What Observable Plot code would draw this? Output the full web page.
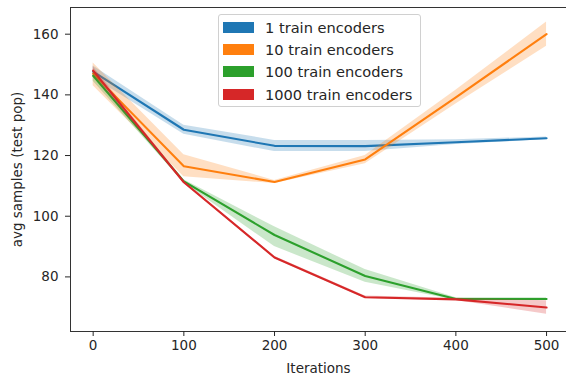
<!DOCTYPE html>
<html>
<head>
<meta charset="utf-8">
<script src="https://cdn.jsdelivr.net/npm/d3@7"></script>
<script src="https://cdn.jsdelivr.net/npm/@observablehq/plot@0.6"></script>
<style>
  html, body { margin: 0; padding: 0; background: #fff; }
  #wrap { position: relative; width: 566px; height: 377px; overflow: hidden; font-family: "DejaVu Sans", sans-serif; }
  #legend { position: absolute; left: 218px; top: 14px; width: 201px; height: 91px; border: 1px solid #d0d0d0; border-radius: 3px; background: rgba(255,255,255,0.8); }
  .row { position: absolute; left: 4px; height: 22px; display: flex; align-items: center; font-size: 14.6px; color: #262626; white-space: nowrap; }
  .sw { width: 31px; height: 11px; margin-right: 11px; }
</style>
</head>
<body>
<div id="wrap"></div>
<script>
const iterations = [0, 100, 200, 300, 400, 500];
const seriesNames = ["1 train encoders", "10 train encoders", "100 train encoders", "1000 train encoders"];
const colors = ["#1f77b4", "#ff7f0e", "#2ca02c", "#d62728"];

const enc1 = [147.7, 128.5, 123.2, 123.1, 124.4, 125.7];
const enc1Lo = [145.7, 127.0, 121.3, 121.3, 123.6, 125.3];
const enc1Hi = [149.5, 130.0, 125.0, 125.0, 125.2, 126.1];

const enc10 = [147.0, 116.5, 111.3, 118.7, 139.2, 160.0];
const enc10Lo = [143.0, 113.0, 110.8, 117.3, 137.0, 156.0];
const enc10Hi = [150.5, 120.3, 111.8, 120.0, 141.5, 164.0];

const enc100 = [146.3, 111.5, 93.8, 80.3, 72.7, 72.7];
const enc100Lo = [144.5, 111.0, 90.0, 78.2, 72.3, 72.3];
const enc100Hi = [148.0, 112.0, 96.5, 82.4, 73.1, 73.1];

const enc1000 = [148.0, 111.2, 86.4, 73.3, 72.6, 69.9];
const enc1000Lo = [146.5, 110.8, 86.0, 72.9, 72.2, 67.7];
const enc1000Hi = [149.3, 111.6, 86.8, 73.7, 73.0, 72.1];

const xTicks = [0, 100, 200, 300, 400, 500];
const yTicks = [80, 100, 120, 140, 160];

const means = [enc1, enc10, enc100, enc1000];
const los = [enc1Lo, enc10Lo, enc100Lo, enc1000Lo];
const his = [enc1Hi, enc10Hi, enc100Hi, enc1000Hi];

const data = [];
seriesNames.forEach((s, i) => {
  iterations.forEach((it, j) => {
    data.push({series: s, it, y: means[i][j], lo: los[i][j], hi: his[i][j]});
  });
});

const marks = [];
seriesNames.forEach((s, i) => {
  const d = data.filter(r => r.series === s);
  marks.push(Plot.areaY(d, {x: "it", y1: "lo", y2: "hi", fill: colors[i], fillOpacity: 0.25}));
  marks.push(Plot.lineY(d, {x: "it", y: "y", stroke: colors[i], strokeWidth: 2.1}));
});

const chart = Plot.plot({
  width: 566,
  height: 377,
  marginLeft: 70,
  marginRight: 0,
  marginTop: 7,
  marginBottom: 46,
  style: {fontFamily: "DejaVu Sans, sans-serif", fontSize: "13.5px", color: "#262626", background: "#fff"},
  x: {domain: [-25, 522]},
  y: {domain: [62, 168.8]},
  marks: [
    ...marks,
    Plot.frame({anchor: "left", stroke: "#333"}),
    Plot.frame({anchor: "top", stroke: "#333"}),
    Plot.frame({anchor: "bottom", stroke: "#333"}),
    Plot.axisX({ticks: xTicks, tickSize: 5, tickPadding: 4, fontSize: 13.5, label: "Iterations", labelAnchor: "center", labelOffset: 41, labelArrow: "none"}),
    Plot.axisY({ticks: yTicks, tickSize: 5, tickPadding: 7, fontSize: 13.5, label: "avg samples (test pop)", labelAnchor: "center", labelOffset: 58, labelArrow: "none"})
  ]
});

const wrap = document.getElementById("wrap");
wrap.appendChild(chart);

const legend = document.createElement("div");
legend.id = "legend";
seriesNames.forEach((s, i) => {
  const row = document.createElement("div");
  row.className = "row";
  row.style.top = (1 + i * 22.4) + "px";
  const sw = document.createElement("div");
  sw.className = "sw";
  sw.style.background = colors[i];
  const t = document.createElement("span");
  t.textContent = s;
  row.appendChild(sw);
  row.appendChild(t);
  legend.appendChild(row);
});
wrap.appendChild(legend);
</script>
</body>
</html>
